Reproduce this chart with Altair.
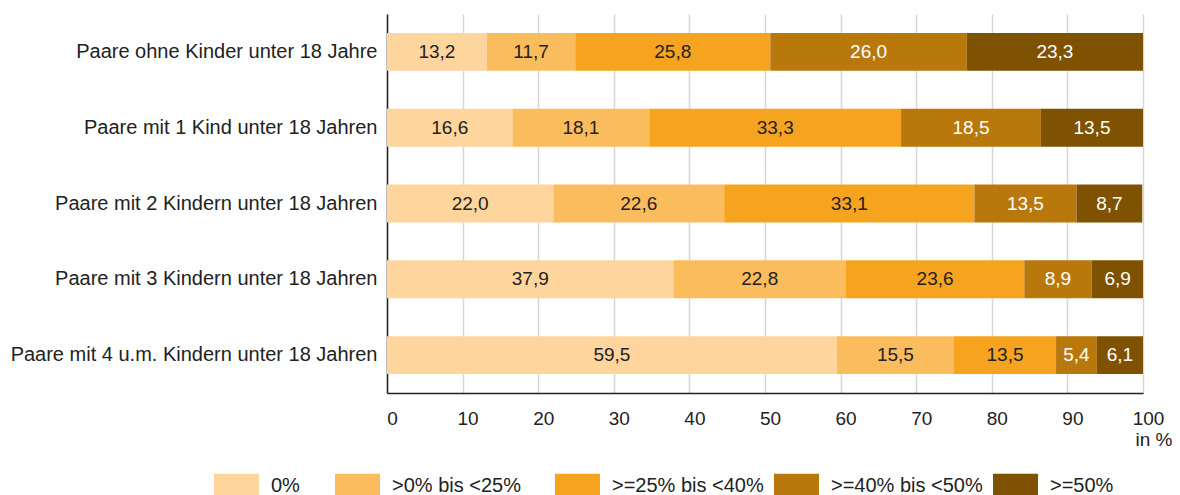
import altair as alt
import pandas as pd

categories = [
    "Paare ohne Kinder unter 18 Jahre",
    "Paare mit 1 Kind unter 18 Jahren",
    "Paare mit 2 Kindern unter 18 Jahren",
    "Paare mit 3 Kindern unter 18 Jahren",
    "Paare mit 4 u.m. Kindern unter 18 Jahren",
]
groups = ["0%", ">0% bis <25%", ">=25% bis <40%", ">=40% bis <50%", ">=50%"]
colors = ["#FDD59D", "#FBBC5E", "#F6A41F", "#B9780C", "#7E5200"]
text_colors = ["#222222", "#222222", "#222222", "#ffffff", "#ffffff"]

share_0 = [13.2, 16.6, 22.0, 37.9, 59.5]
share_0_25 = [11.7, 18.1, 22.6, 22.8, 15.5]
share_25_40 = [25.8, 33.3, 33.1, 23.6, 13.5]
share_40_50 = [26.0, 18.5, 13.5, 8.9, 5.4]
share_50 = [23.3, 13.5, 8.7, 6.9, 6.1]
x_ticks = [0, 10, 20, 30, 40, 50, 60, 70, 80, 90, 100]

series = [share_0, share_0_25, share_25_40, share_40_50, share_50]
rows = []
for i, cat in enumerate(categories):
    start = 0.0
    for j, g in enumerate(groups):
        v = series[j][i]
        rows.append({
            "cat": cat, "group": g, "order": j, "value": v,
            "x0": start, "x1": start + v, "mid": start + v / 2,
            "label": f"{v:.1f}".replace(".", ","),
            "tcolor": text_colors[j],
        })
        start += v
df = pd.DataFrame(rows)

FONT = "Liberation Sans"

y_enc = alt.Y("cat:N", sort=categories, title=None,
              scale=alt.Scale(paddingInner=0.5, paddingOuter=0.25),
              axis=alt.Axis(labelFontSize=20, labelFont=FONT, labelColor="#222222",
                            labelPadding=10, labelLimit=500, ticks=False,
                            domainColor="#222222", domainWidth=1.5, grid=False))

x_scale = alt.Scale(domain=[0, 100], nice=False)
x_axis = alt.Axis(values=x_ticks, grid=True, gridColor="#d6d6d6", gridWidth=1.5,
                  ticks=False, domainColor="#222222", domainWidth=1.5,
                  labelFontSize=19, labelFont=FONT, labelColor="#222222",
                  labelPadding=16, labelOffset=5, labelFlush=False,
                  title="in %", titleX=785, titleY=52, titleAlign="right",
                  titleBaseline="alphabetic", titleFontWeight="normal",
                  titleFontSize=19, titleFont=FONT, titleColor="#222222")


def legend(x, pad):
    return alt.Legend(title=None, orient="none", legendX=x, legendY=449,
                      direction="horizontal",
                      symbolType="M-1,-0.53H1V0.53H-1Z", symbolSize=2025,
                      symbolStrokeWidth=0, symbolOpacity=1,
                      labelFontSize=20, labelFont=FONT, labelColor="#222222",
                      columnPadding=pad, labelOffset=12, padding=0, labelLimit=400)


def bar_layer(gs, cs, lx, pad):
    return alt.Chart(df).transform_filter(
        alt.FieldOneOfPredicate(field="group", oneOf=gs)
    ).mark_bar(clip=True).encode(
        x=alt.X("x0:Q", scale=x_scale, axis=x_axis),
        x2="x1:Q",
        y=y_enc,
        color=alt.Color("group:N", sort=gs, scale=alt.Scale(domain=gs, range=cs),
                        legend=legend(lx, pad)),
    )


bars_a = bar_layer(groups[:2], colors[:2], -173, 35)
bars_b = bar_layer(groups[2:], colors[2:], 168, 10)

texts = alt.Chart(df).mark_text(fontSize=19, font=FONT, align="center", baseline="middle").encode(
    x=alt.X("mid:Q", scale=x_scale, axis=x_axis),
    y=y_enc,
    text="label:N",
    color=alt.Color("tcolor:N", scale=None),
)

chart = alt.layer(bars_a, bars_b, texts).resolve_scale(color="independent").properties(
    width=756, height=379,
    autosize=alt.AutoSizeParams(type="none"),
    padding={"left": 379, "top": 6, "right": 29, "bottom": 102},
).configure_view(stroke=None)

chart.save("out.html", embed_options={"renderer": "svg", "actions": False})
